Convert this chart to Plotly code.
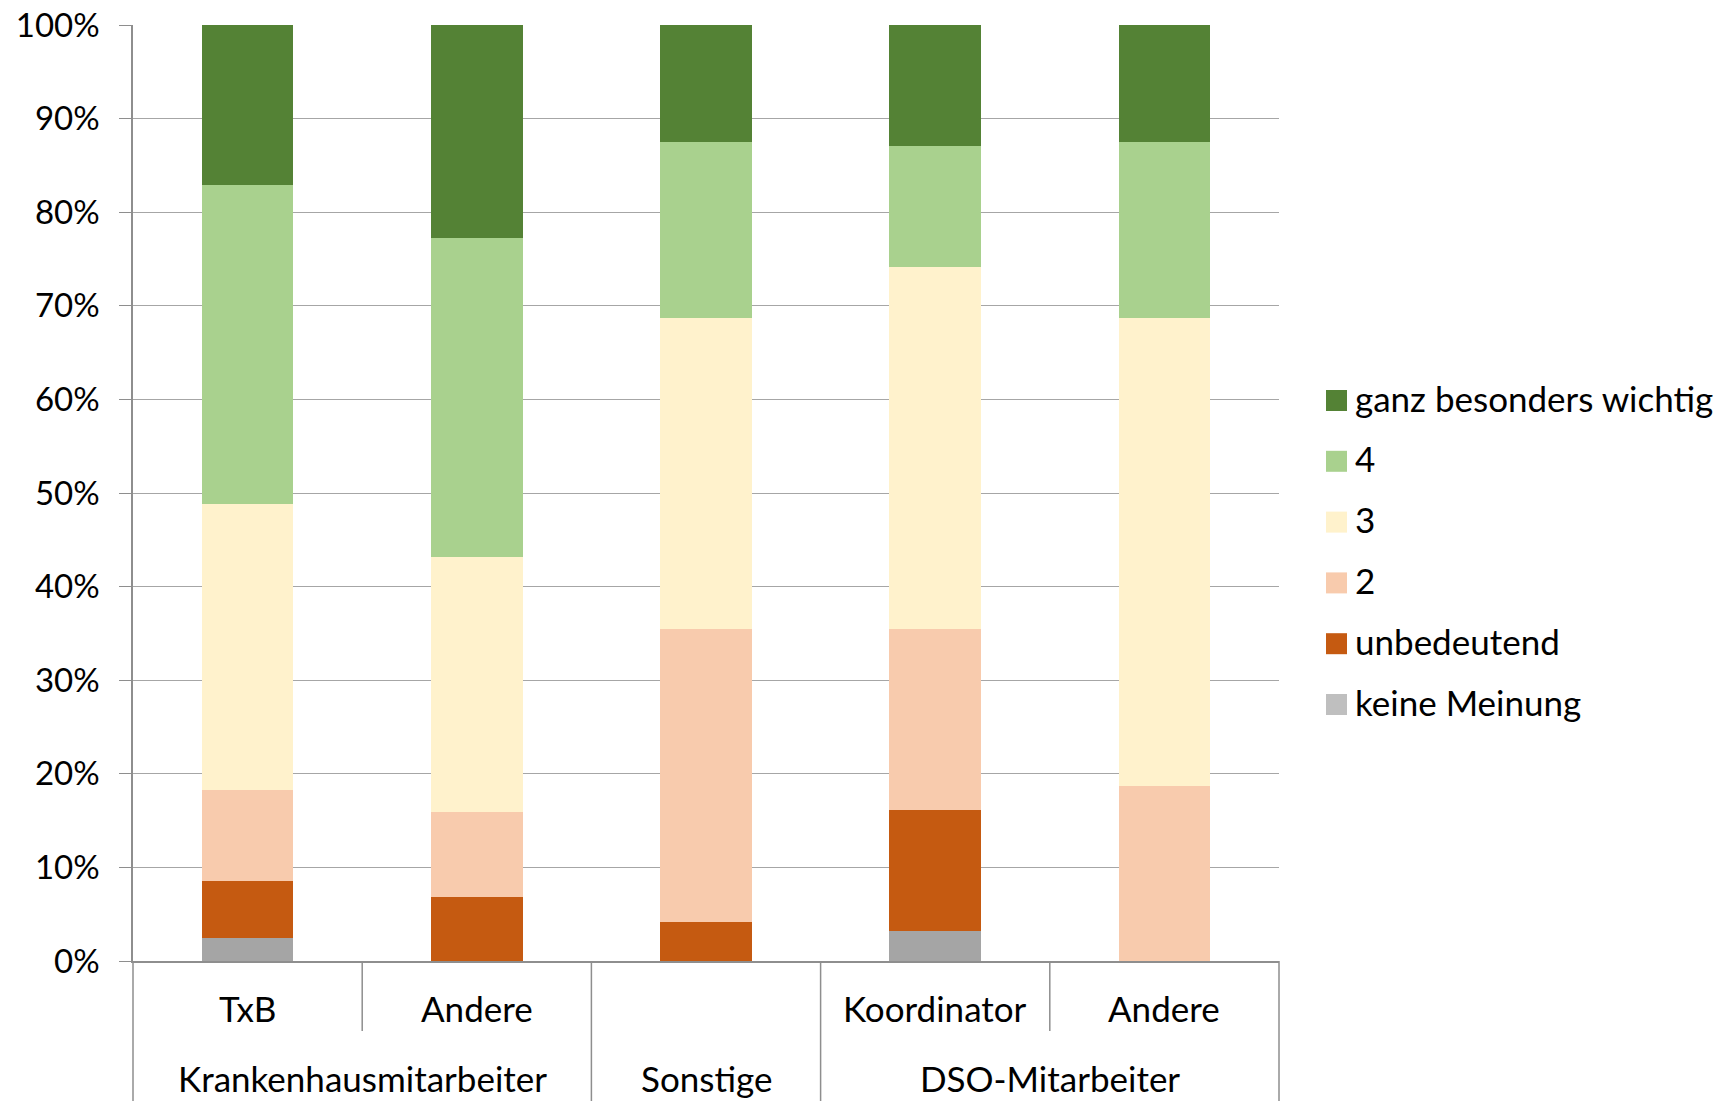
import plotly.graph_objects as go

# ---- data (percent shares per group) ----
sub_labels = ["TxB", "Andere", "", "Koordinator", "Andere"]
group_labels = ["Krankenhausmitarbeiter", "Sonstige", "DSO-Mitarbeiter"]
group_spans = [(0, 1), (2, 2), (3, 4)]

series_names = ["keine Meinung", "unbedeutend", "2", "3", "4", "ganz besonders wichtig"]
keine_meinung = [2.44, 0.0, 0.0, 3.23, 0.0]
unbedeutend = [6.10, 6.82, 4.17, 12.90, 0.0]
wert_2 = [9.76, 9.09, 31.25, 19.35, 18.75]
wert_3 = [30.49, 27.27, 33.33, 38.71, 50.00]
wert_4 = [34.15, 34.09, 18.75, 12.90, 18.75]
ganz_besonders = [17.07, 22.73, 12.50, 12.90, 12.50]
series_values = [keine_meinung, unbedeutend, wert_2, wert_3, wert_4, ganz_besonders]

bar_colors = ["#A5A5A5", "#C55A11", "#F8CBAD", "#FFF2CC", "#A9D18E", "#548235"]
legend_colors = ["#BFBFBF", "#C55A11", "#F8CBAD", "#FFF2CC", "#A9D18E", "#548235"]

y_ticks = [0, 10, 20, 30, 40, 50, 60, 70, 80, 90, 100]

# ---- layout geometry ----
W, H = 1716, 1101
ML, MR, MT, MB = 133, 437, 25, 140
PW = W - ML - MR
PH = H - MT - MB
FONT = "Lato, 'Open Sans', sans-serif"
FS = 35
FS_TICK = 33
AXC = "#8E8E8E"
GRIDC = "#A6A6A6"


def px_x(px):
    return (px - ML) / PW


def px_y(py):
    return (H - MB - py) / PH


n = len(sub_labels)
xs = list(range(n))

fig = go.Figure()
for name, vals, col in zip(series_names, series_values, bar_colors):
    fig.add_trace(go.Bar(
        x=xs, y=vals, name=name, width=0.4,
        marker=dict(color=col, line=dict(width=0)),
        showlegend=False,
    ))

shapes = []
y_bottom = -MB / PH
y_short = px_y(1031)
# category separators
for b in range(n + 1):
    xp = b / n
    is_short = any(s < b <= e for s, e in group_spans)
    shapes.append(dict(type="line", xref="paper", yref="paper",
                       x0=xp, x1=xp, y0=0, y1=(y_short if is_short else y_bottom),
                       line=dict(color=AXC, width=1.5)))

annotations = []
for i, lab in enumerate(sub_labels):
    if lab:
        annotations.append(dict(x=i, y=px_y(1008), xref="x", yref="paper",
                                text=lab, showarrow=False, xanchor="center", yanchor="middle",
                                font=dict(family=FONT, size=FS, color="#000000")))
for lab, (s, e) in zip(group_labels, group_spans):
    annotations.append(dict(x=(s + e) / 2, y=px_y(1078), xref="x", yref="paper",
                            text=lab, showarrow=False, xanchor="center", yanchor="middle",
                            font=dict(family=FONT, size=FS, color="#000000")))

# manual legend (top item = last series)
leg_top = 400.5
leg_step = 60.8
for k, (name, col) in enumerate(zip(reversed(series_names), reversed(legend_colors))):
    cy = leg_top + k * leg_step
    shapes.append(dict(type="rect", xref="paper", yref="paper",
                       x0=px_x(1326), x1=px_x(1347), y0=px_y(cy + 10.5), y1=px_y(cy - 10.5),
                       fillcolor=col, line=dict(width=0)))
    annotations.append(dict(x=px_x(1353), y=px_y(cy - 3), xref="paper", yref="paper",
                            text=name, showarrow=False, xanchor="left", yanchor="middle",
                            font=dict(family=FONT, size=FS, color="#000000")))

fig.update_layout(
    width=W, height=H,
    margin=dict(l=ML, r=MR, t=MT, b=MB, autoexpand=False),
    barmode="stack", bargap=0,
    plot_bgcolor="white", paper_bgcolor="white",
    font=dict(family=FONT, size=FS, color="#000000"),
    shapes=shapes, annotations=annotations,
    xaxis=dict(range=[-0.5, n - 0.5], showticklabels=False, showgrid=False, automargin=False,
               zeroline=False, showline=True, linecolor=AXC, linewidth=1.5, ticks=""),
    yaxis=dict(range=[0, 100], tickvals=y_ticks, ticktext=[f"{v}%" for v in y_ticks],
               automargin=False,
               showgrid=True, gridcolor=GRIDC, gridwidth=1.3, zeroline=False,
               showline=True, linecolor=AXC, linewidth=1.5,
               ticks="outside", ticklen=12, tickcolor=AXC, tickwidth=1.3,
               ticklabelstandoff=13,
               tickfont=dict(family=FONT, size=FS_TICK, color="#000000")),
)

fig.write_html("out.html", config={"displayModeBar": False},
               post_script="document.body.style.margin='0';document.body.style.overflow='hidden';")
